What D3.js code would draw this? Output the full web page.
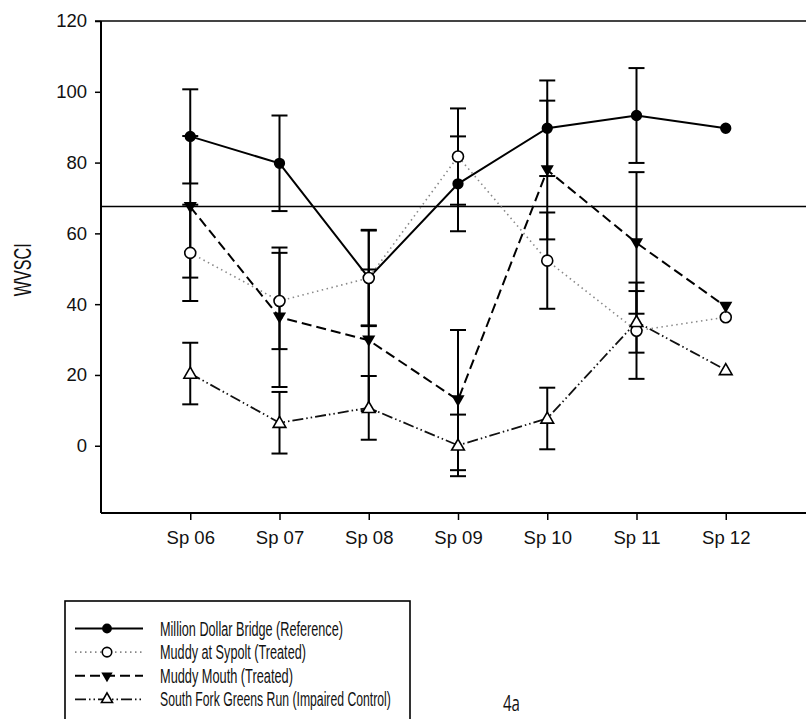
<!DOCTYPE html>
<html>
<head>
<meta charset="utf-8">
<script src="https://cdn.jsdelivr.net/npm/d3@7"></script>
<style>
  html, body { margin: 0; padding: 0; background: #fff; }
  svg { display: block; }
  text { font-family: "Liberation Sans", Arial, sans-serif; fill: #111; }
</style>
</head>
<body>
<svg id="chart" width="806" height="719"></svg>
<script>
// ---- data ----
const categories = ["Sp 06", "Sp 07", "Sp 08", "Sp 09", "Sp 10", "Sp 11", "Sp 12"];
const seriesNames = [
  "Million Dollar Bridge (Reference)",
  "Muddy at Sypolt (Treated)",
  "Muddy Mouth (Treated)",
  "South Fork Greens Run (Impaired Control)"
];
const mdbValues    = [87.4, 79.8, 47.4, 74.0, 89.7, 93.3, 89.7];
const mdbErrors    = [13.3, 13.5, 13.4, 13.4, 13.5, 13.4, null];
const sypoltValues = [54.5, 40.9, 47.4, 81.7, 52.3, 32.5, 36.3];
const sypoltErrors = [13.6, 13.6, 13.6, 13.6, 13.6, 13.6, null];
const mouthValues  = [67.5, 36.3, 29.8, 12.9, 77.9, 57.3, 39.3];
const mouthErrors  = [20.0, 19.7, 20.0, 19.8, 19.6, 20.0, null];
const sfgrValues   = [20.4, 6.5, 10.7, 0.1, 7.7, 35.0, 21.4];
const sfgrErrors   = [8.7, 8.7, 9.0, 8.7, 8.7, 8.7, null];
const yTicks = [0, 20, 40, 60, 80, 100, 120];
const yDomain = [-19, 120];
const referenceValue = 67.6;
const yAxisTitle = "WVSCI";
const panelLabel = "4a";

// ---- layout ----
const svg = d3.select("#chart");
const plot = { left: 101, right: 815, top: 21, bottom: 513 };

const x = d3.scaleLinear().domain([-1, categories.length]).range([plot.left, plot.right]);
const y = d3.scaleLinear().domain(yDomain).range([plot.bottom, plot.top]);

const styles = [
  { stroke: "#000", width: 2, dash: null, symbol: d3.symbolCircle, size: 100, fill: "#000", rot: 0, mstroke: 0 },
  { stroke: "#888", width: 1.6, dash: "1.5,3.5", symbol: d3.symbolCircle, size: 95, fill: "#fff", rot: 0, mstroke: 1.6 },
  { stroke: "#000", width: 2, dash: "10,5", symbol: d3.symbolTriangle, size: 75, fill: "#000", rot: 180, mstroke: 0 },
  { stroke: "#111", width: 1.8, dash: "11,3,1.5,3,1.5,3", symbol: d3.symbolTriangle, size: 70, fill: "#fff", rot: 0, mstroke: 1.6 }
];
const seriesValues = [mdbValues, sypoltValues, mouthValues, sfgrValues];
const seriesErrors = [mdbErrors, sypoltErrors, mouthErrors, sfgrErrors];

// helper: draw text stretched horizontally to a target width
function fitText(parent, str, px, py, size, target, rot, anchor, family) {
  const t = parent.append("text").style("font-size", size + "px").text(str);
  if (family) t.style("font-family", family);
  const w = t.node().getComputedTextLength() || target;
  const sx = target / w;
  const ax = anchor === "middle" ? -w / 2 : 0;
  t.attr("x", ax).attr("y", 0)
   .attr("transform", `translate(${px},${py}) rotate(${rot || 0}) scale(${sx},1)`);
  return t;
}

// frame (top line, right cropped)
svg.append("line").attr("x1", plot.left - 6).attr("x2", 806).attr("y1", plot.top).attr("y2", plot.top)
  .attr("stroke", "#444").attr("stroke-width", 2);

// y axis
const yAxis = d3.axisLeft(y).tickValues(yTicks).tickSize(6).tickPadding(8).tickFormat(d3.format("d"));
const gy = svg.append("g").attr("transform", `translate(${plot.left},0)`).call(yAxis);
gy.select(".domain").attr("d", `M0,${plot.top}V${plot.bottom}`).attr("stroke", "#000").attr("stroke-width", 2);
gy.selectAll(".tick line").attr("stroke", "#000").attr("stroke-width", 1.5);
gy.selectAll(".tick text").style("font-size", "18.5px").attr("fill", "#111");

// x axis
const xAxis = d3.axisBottom(x).tickValues(d3.range(categories.length)).tickSize(7).tickPadding(11)
  .tickFormat(i => categories[i]);
const gx = svg.append("g").attr("transform", `translate(0,${plot.bottom})`).call(xAxis);
gx.select(".domain").attr("d", `M${plot.left},0H806`).attr("stroke", "#000").attr("stroke-width", 2);
gx.selectAll(".tick line").attr("stroke", "#000").attr("stroke-width", 1.5);
gx.selectAll(".tick text").style("font-size", "18.5px").attr("fill", "#111");

// reference line
svg.append("line").attr("x1", plot.left).attr("x2", 806)
  .attr("y1", y(referenceValue)).attr("y2", y(referenceValue))
  .attr("stroke", "#000").attr("stroke-width", 1.4);

// y title (rotated, stretched along its length)
fitText(svg, yAxisTitle, 31, (y(60) + y(40)) / 2 + 1, 24, 53, -90, "middle");

// series
const lineGen = d3.line().x((d, i) => x(i)).y(d => y(d));
seriesValues.forEach((vals, s) => {
  const st = styles[s];
  const g = svg.append("g");
  g.append("path").datum(vals).attr("d", lineGen)
    .attr("fill", "none").attr("stroke", st.stroke).attr("stroke-width", st.width)
    .attr("stroke-dasharray", st.dash);
  const errs = seriesErrors[s];
  const eb = g.selectAll(".eb").data(vals.map((v, i) => ({ v, e: errs[i], i })).filter(d => d.e != null))
    .enter().append("g");
  eb.append("line").attr("x1", d => x(d.i)).attr("x2", d => x(d.i))
    .attr("y1", d => y(d.v + d.e)).attr("y2", d => y(d.v - d.e))
    .attr("stroke", "#000").attr("stroke-width", 2);
  [1, -1].forEach(sign => {
    eb.append("line").attr("x1", d => x(d.i) - 8).attr("x2", d => x(d.i) + 8)
      .attr("y1", d => y(d.v + sign * d.e)).attr("y2", d => y(d.v + sign * d.e))
      .attr("stroke", "#000").attr("stroke-width", 2);
  });
});
seriesValues.forEach((vals, s) => {
  const st = styles[s];
  svg.append("g").selectAll("path").data(vals).enter().append("path")
    .attr("d", d3.symbol().type(st.symbol).size(st.size))
    .attr("transform", (d, i) => `translate(${x(i)},${y(d) + (st.rot ? -1 : (st.symbol === d3.symbolTriangle ? 1 : 0))}) rotate(${st.rot})`)
    .attr("fill", st.fill).attr("stroke", st.mstroke ? "#000" : "none").attr("stroke-width", st.mstroke);
});

// legend
const legend = svg.append("g");
legend.append("rect").attr("x", 65).attr("y", 601).attr("width", 345).attr("height", 140)
  .attr("fill", "none").attr("stroke", "#000").attr("stroke-width", 1.6);
const legendWidths = [183, 146, 133, 231];
seriesNames.forEach((name, s) => {
  const st = styles[s];
  const cy = 628.5 + s * 23.6;
  legend.append("line").attr("x1", 75).attr("x2", 143).attr("y1", cy).attr("y2", cy)
    .attr("stroke", st.stroke).attr("stroke-width", st.width).attr("stroke-dasharray", st.dash);
  legend.append("path").attr("d", d3.symbol().type(st.symbol).size(st.size * 0.75))
    .attr("transform", `translate(107,${cy}) rotate(${st.rot})`)
    .attr("fill", st.fill).attr("stroke", st.mstroke ? "#000" : "none").attr("stroke-width", st.mstroke);
  fitText(legend, name, 160, cy + 7, 19.5, legendWidths[s], 0, "start");
});

// panel label
fitText(svg, panelLabel, 503, 711, 22, 17, 0, "start", "'Open Sans', Lato, sans-serif");
</script>
</body>
</html>
